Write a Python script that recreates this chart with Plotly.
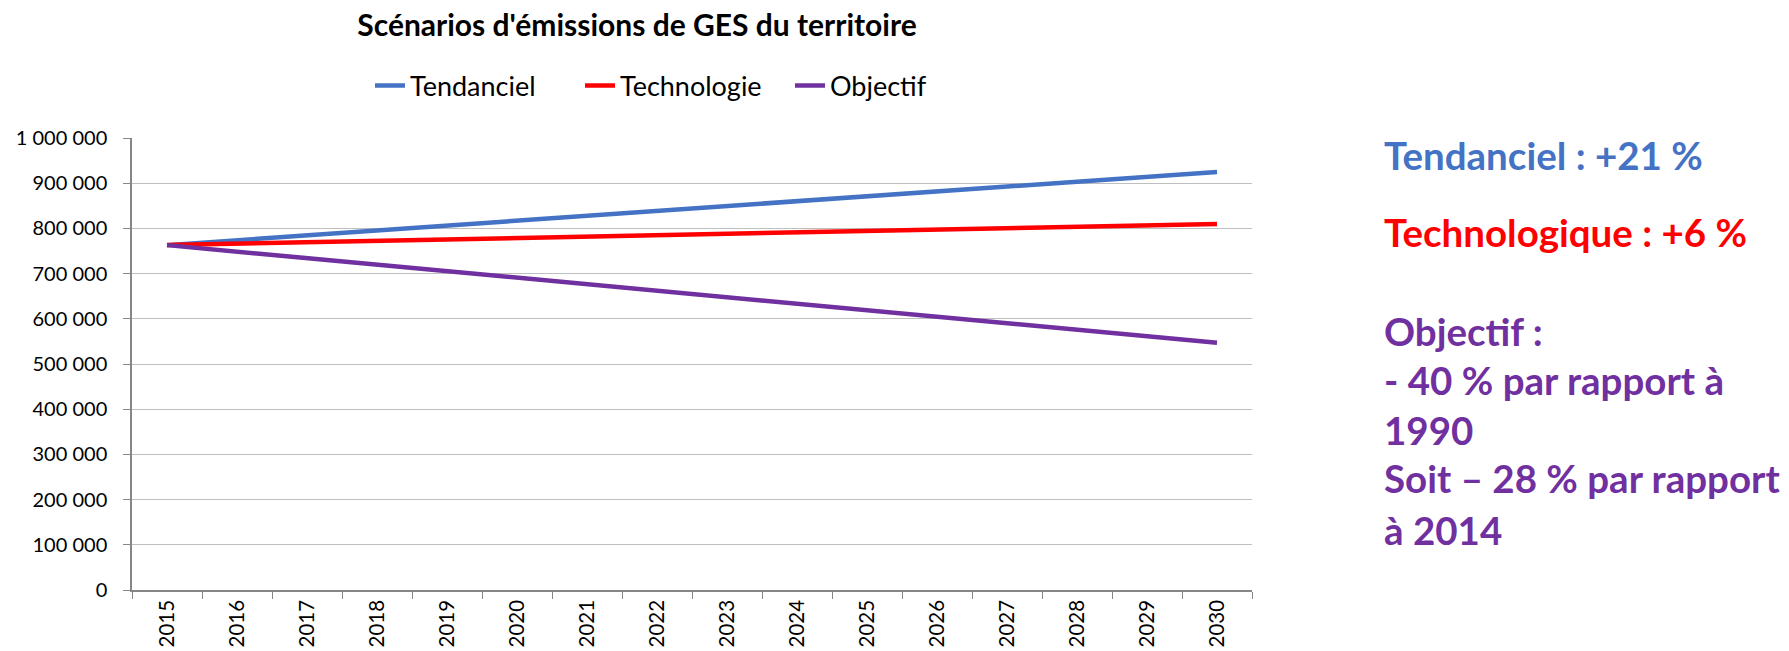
import plotly.graph_objects as go

years = [str(y) for y in range(2015, 2031)]
tendanciel = [763000, 773800, 784600, 795400, 806200, 817000, 827800, 838600,
              849400, 860200, 871000, 881800, 892600, 903400, 914200, 925000]
technologie = [763000, 766100, 769300, 772400, 775500, 778700, 781800, 784900,
               788100, 791200, 794300, 797500, 800600, 803700, 806900, 810000]
objectif = [763000, 748600, 734200, 719800, 705400, 691000, 676600, 662200,
            647800, 633400, 619000, 604600, 590200, 575800, 561400, 547000]

series_names = ["Tendanciel", "Technologie", "Objectif"]
series_colors = ["#4472C4", "#FF0000", "#7030A0"]

notes = [
    ("Tendanciel : +21 %", "#4472C4", 155),
    ("Technologique : +6 %", "#FF0000", 232),
    ("Objectif :", "#7030A0", 331),
    ("- 40 % par rapport à", "#7030A0", 380),
    ("1990", "#7030A0", 430),
    ("Soit – 28 % par rapport", "#7030A0", 478),
    ("à 2014", "#7030A0", 530),
]

W, H = 1789, 651
L, R, T, B = 132, 537, 138, 61
FONT = "Lato"

fig = go.Figure()
for name, vals, col in zip(series_names, [tendanciel, technologie, objectif], series_colors):
    fig.add_trace(go.Scatter(x=years, y=vals, mode="lines", name=name,
                             line=dict(color=col, width=4.5)))

plot_h = H - T - B
plot_w = W - L - R
annos = []
for txt, col, ypx in notes:
    annos.append(dict(text=txt, xref="paper", yref="paper",
                      x=(1382 - L) / plot_w, y=(H - B - ypx) / plot_h,
                      xanchor="left", yanchor="middle", showarrow=False,
                      font=dict(family=FONT, size=38.5, color=col, weight="bold")))

fig.update_layout(
    width=W, height=H,
    margin=dict(l=L, r=R, t=T, b=B, autoexpand=False),
    paper_bgcolor="white", plot_bgcolor="white",
    separators=", ",
    font=dict(family=FONT, color="#000000"),
    title=dict(text="<b>Scénarios d'émissions de GES du territoire</b>",
               xref="container", yref="container",
               x=637 / W, y=1 - 25 / H, xanchor="center", yanchor="middle",
               font=dict(family=FONT, size=30, color="#000000")),
    legend=dict(orientation="h", xref="container", yref="container",
                x=370 / W, y=1 - 86 / H, xanchor="left", yanchor="middle",
                font=dict(family=FONT, size=27, color="#000000"),
                itemwidth=30, tracegroupgap=0, entrywidth=165, entrywidthmode="pixels"),
    annotations=annos,
    xaxis=dict(type="category", tickson="boundaries", ticks="outside", ticklen=7,
               range=[-0.5, 15.5], automargin=False,
               tickcolor="#868686", showline=True, linecolor="#868686", linewidth=1.5,
               showgrid=False, tickangle=-90,
               tickfont=dict(family=FONT, size=20.5, color="#000000")),
    yaxis=dict(range=[0, 1000000], dtick=100000, tickformat=",d", automargin=False,
               ticks="outside", ticklen=7, tickcolor="#868686",
               ticklabelstandoff=12,
               showline=True, linecolor="#868686", linewidth=1.5,
               showgrid=True, gridcolor="#BFBFBF", gridwidth=1,
               zeroline=False,
               tickfont=dict(family=FONT, size=20, color="#000000")),
)

fig.write_html("out.html", config={"displayModeBar": False},
               post_script="document.body.style.margin='0';document.body.style.overflow='hidden';")
